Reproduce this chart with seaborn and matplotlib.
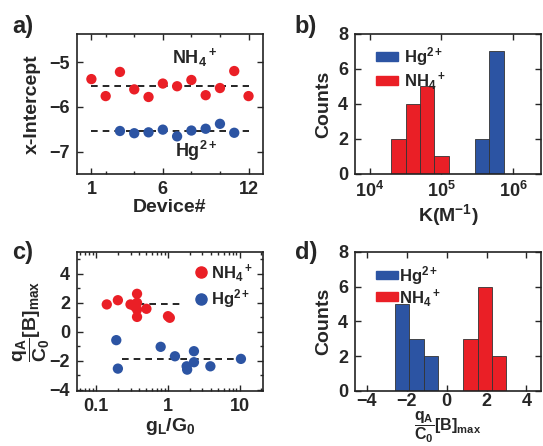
import numpy as np
import pandas as pd
import matplotlib
matplotlib.use('Agg')
import matplotlib.pyplot as plt
from matplotlib.patches import Patch
from matplotlib.lines import Line2D
from matplotlib.ticker import FixedLocator, NullFormatter, MultipleLocator, LogLocator
import seaborn as sns

sns.set_style('ticks')
plt.rcParams['font.family'] = ['Liberation Sans', 'DejaVu Sans']
plt.rcParams['font.weight'] = 'bold'
plt.rcParams['axes.labelweight'] = 'bold'
plt.rcParams['mathtext.fontset'] = 'custom'
plt.rcParams['mathtext.rm'] = 'Liberation Sans'
plt.rcParams['mathtext.bf'] = 'Liberation Sans:bold'
plt.rcParams['mathtext.it'] = 'Liberation Sans:bold'
plt.rcParams['mathtext.default'] = 'bf'

red = '#EA1F26'
blue = '#2C54A3'
NH4 = r'NH$_4$$^+$'
HG = r'Hg$^{2+}$'
QLABEL = r'$\dfrac{q_A}{C_0}$[B]$_{\mathrm{max}}$'

# panel a: x-intercept per device
devices_nh4 = [1, 2, 3, 4, 5, 6, 7, 8, 9, 10, 11, 12]
xint_nh4 = [-5.38, -5.76, -5.22, -5.61, -5.78, -5.48, -5.54, -5.40, -5.74, -5.58, -5.20, -5.76]
devices_hg = [3, 4, 5, 6, 7, 8, 9, 10, 11]
xint_hg = [-6.54, -6.59, -6.57, -6.51, -6.66, -6.53, -6.49, -6.38, -6.58]

# panel b: histogram of K (log10 bin edges and counts)
k_edges_nh4 = [4.30, 4.51, 4.70, 4.90, 5.10]
k_counts_nh4 = [2, 4, 5, 1]
k_edges_hg = [5.46, 5.66, 5.87]
k_counts_hg = [2, 7]

# panel c: normalised charge vs g_L/G0
gl_nh4 = [0.14, 0.20, 0.37, 0.37, 0.34, 0.37, 0.37, 0.50, 1.00, 1.06, 0.30]
q_nh4 = [1.89, 2.18, 2.62, 2.00, 1.77, 1.54, 1.03, 1.59, 1.08, 0.97, 1.89]
gl_hg = [0.19, 0.20, 0.79, 1.25, 1.82, 1.85, 2.30, 2.30, 3.90, 10.4]
q_hg = [-0.57, -2.53, -1.03, -1.68, -2.37, -2.60, -1.33, -2.09, -2.37, -1.86]
fit_nh4 = 1.95
fit_hg = -1.86
fit_x_nh4 = [0.26, 1.6]
fit_x_hg = [0.23, 10.8]

# panel d: histogram of normalised charge
q_edges_hg = [-2.60, -1.87, -1.13, -0.42]
q_counts_hg = [5, 3, 2]
q_edges_nh4 = [0.83, 1.55, 2.28, 3.00]
q_counts_nh4 = [3, 6, 2]

fig = plt.figure(figsize=(5.43, 4.46), dpi=100)
axa = fig.add_axes([0.142, 0.610, 0.342, 0.314])
axb = fig.add_axes([0.654, 0.610, 0.342, 0.314])
axc = fig.add_axes([0.142, 0.124, 0.342, 0.311])
axd = fig.add_axes([0.654, 0.124, 0.342, 0.311])

tick_fs = 13
lab_fs = 14


def style(ax):
    for s in ax.spines.values():
        s.set_visible(True)
        s.set_linewidth(1.2)
        s.set_color('#222222')
    ax.tick_params(which='both', direction='in', top=True, right=True, labelsize=tick_fs, width=1, pad=5)
    ax.tick_params(which='major', length=4)
    ax.tick_params(which='minor', length=2)


def hist(ax, edges, counts, color):
    edges = [float(e) for e in edges]
    df = pd.DataFrame({'x': [(a + b) / 2 for a, b in zip(edges[:-1], edges[1:])],
                       'w': [float(c) for c in counts]})
    sns.histplot(data=df, x='x', weights='w', bins=edges, color=color, alpha=1,
                 edgecolor='#333333', linewidth=0.6, ax=ax)


# a)
sns.scatterplot(x=devices_nh4, y=xint_nh4, color=red, s=55, edgecolor='none', ax=axa, zorder=3)
sns.scatterplot(x=devices_hg, y=xint_hg, color=blue, s=55, edgecolor='none', ax=axa, zorder=3)
axa.hlines(np.mean(xint_nh4), min(devices_nh4), max(devices_nh4), colors='k', linestyles=(0, (4, 3)), lw=1.2)
axa.hlines(np.mean(xint_hg), min(devices_nh4), max(devices_nh4), colors='k', linestyles=(0, (4, 3)), lw=1.2)
axa.text(8.2, -5.03, NH4, ha='center', va='baseline', fontsize=13)
axa.text(8.35, -7.13, HG, ha='center', va='baseline', fontsize=13)
axa.set_xlim(0, 13)
axa.set_ylim(-7.5, -4.37)
axa.set_xticks([1, 6, 12])
axa.xaxis.set_minor_locator(FixedLocator([2, 4, 8, 10]))
axa.set_yticks([-5, -6, -7])
axa.set_xlabel('Device#', fontsize=lab_fs, labelpad=1)
axa.set_ylabel('x-Intercept', fontsize=lab_fs, labelpad=6)
style(axa)

# b)
hist(axb, 10 ** np.array(k_edges_nh4), k_counts_nh4, red)
hist(axb, 10 ** np.array(k_edges_hg), k_counts_hg, blue)
axb.set_xscale('log')
axb.set_xlim(10 ** 3.8, 10 ** 6.38)
axb.set_ylim(0, 8)
axb.set_yticks([0, 2, 4, 6, 8])
axb.xaxis.set_major_locator(FixedLocator([1e4, 1e5, 1e6]))
axb.xaxis.set_minor_locator(FixedLocator([]))
axb.set_xlabel(r'K(M$^{-1}$)', fontsize=lab_fs, labelpad=1)
axb.set_ylabel('Counts', fontsize=lab_fs)
style(axb)
axb.legend(handles=[Patch(color=blue, label=HG), Patch(color=red, label=NH4)],
           loc='upper left', frameon=False, fontsize=12, handlelength=1.3, handleheight=0.45,
           handletextpad=0.4, labelspacing=0.1, borderaxespad=0.3, bbox_to_anchor=(0.05, 1.0))

# c)
sns.scatterplot(x=gl_nh4, y=q_nh4, color=red, s=55, edgecolor='none', ax=axc, zorder=3)
sns.scatterplot(x=gl_hg, y=q_hg, color=blue, s=55, edgecolor='none', ax=axc, zorder=3)
axc.hlines(fit_nh4, fit_x_nh4[0], fit_x_nh4[1], colors='k', linestyles=(0, (4, 3)), lw=1.2)
axc.hlines(fit_hg, fit_x_hg[0], fit_x_hg[1], colors='k', linestyles=(0, (4, 3)), lw=1.2)
axc.set_xscale('log')
axc.set_xlim(0.054, 21)
axc.set_ylim(-4.05, 5.5)
axc.xaxis.set_major_locator(FixedLocator([0.1, 1, 10]))
axc.set_xticklabels(['0.1', '1', '10'])
axc.xaxis.set_minor_locator(LogLocator(base=10, subs=np.arange(2, 10)))
axc.xaxis.set_minor_formatter(NullFormatter())
axc.set_yticks([-4, -2, 0, 2, 4])
axc.yaxis.set_minor_locator(MultipleLocator(1))
axc.set_xlabel(r'g$_L$/G$_0$', fontsize=lab_fs, labelpad=1)
axc.set_ylabel(QLABEL, fontsize=14, labelpad=-2)
style(axc)
axc.legend(handles=[Line2D([], [], marker='o', ls='', color=red, markersize=8, label=NH4),
                    Line2D([], [], marker='o', ls='', color=blue, markersize=8, label=HG)],
           loc='upper right', frameon=False, fontsize=12, handletextpad=0.1, labelspacing=0.2,
           borderaxespad=0.2, handlelength=1.0)

# d)
hist(axd, q_edges_hg, q_counts_hg, blue)
hist(axd, q_edges_nh4, q_counts_nh4, red)
axd.set_xlim(-4.58, 4.72)
axd.set_ylim(0, 8)
axd.set_xticks([-4, -2, 0, 2, 4])
axd.set_yticks([0, 2, 4, 6, 8])
axd.set_ylabel('Counts', fontsize=lab_fs)
style(axd)
axd.tick_params(axis='x', pad=2)
axd.set_xlabel(QLABEL, fontsize=11.5, labelpad=-1)
axd.legend(handles=[Patch(color=blue, label=HG), Patch(color=red, label=NH4)],
           loc='upper left', frameon=False, fontsize=12, handlelength=1.3, handleheight=0.45,
           handletextpad=0.1, labelspacing=0.0, borderaxespad=0.3, bbox_to_anchor=(0.05, 1.0))

fig.text(0.022, 0.926, 'a)', fontsize=17, fontweight='bold')
fig.text(0.543, 0.926, 'b)', fontsize=17, fontweight='bold')
fig.text(0.022, 0.419, 'c)', fontsize=17, fontweight='bold')
fig.text(0.543, 0.419, 'd)', fontsize=17, fontweight='bold')

fig.savefig('out.png', dpi=100)
